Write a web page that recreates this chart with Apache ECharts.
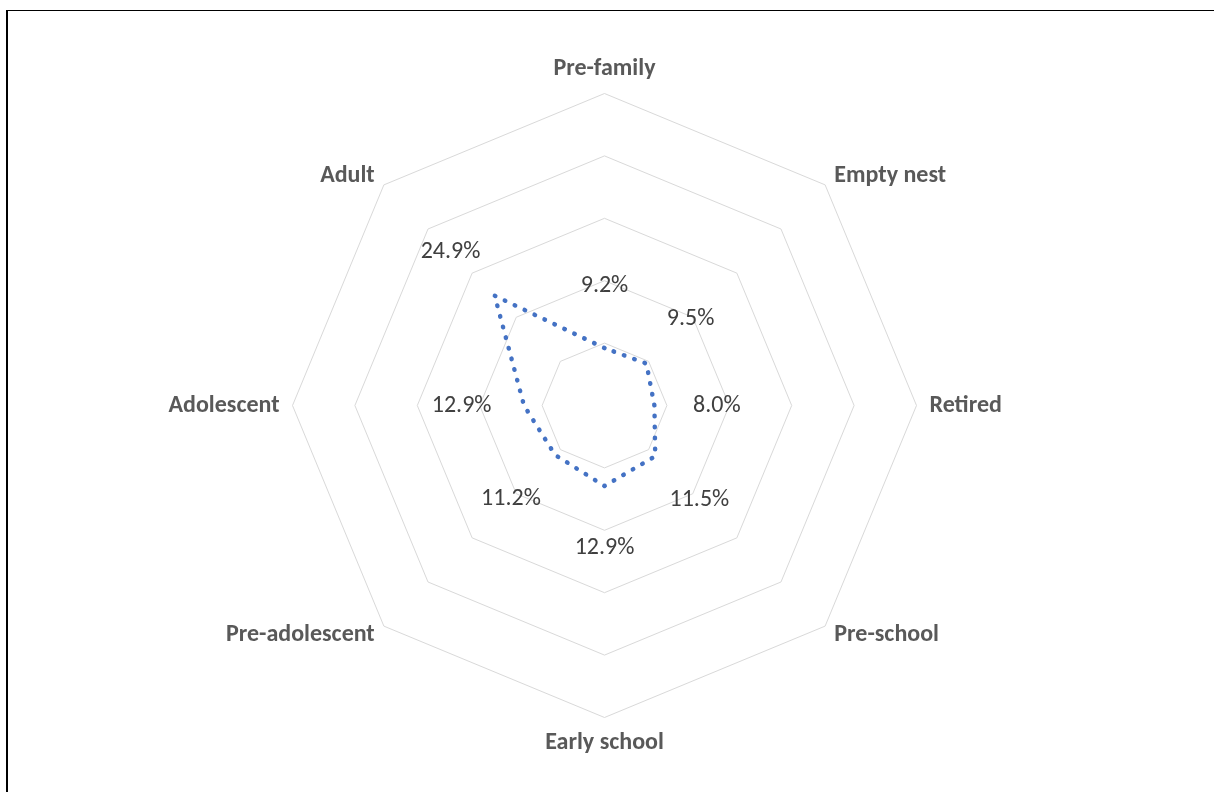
<!DOCTYPE html>
<html>
<head>
<meta charset="utf-8">
<script src="https://cdn.jsdelivr.net/npm/echarts@6/dist/echarts.min.js"></script>
<style>
  html, body { margin: 0; padding: 0; background: #ffffff; }
  #chart { position: absolute; left: 0; top: 0; width: 1214px; height: 792px; }
  .edge-top { position: absolute; left: 6px; top: 10px; width: 1208px; height: 1px; background: #000; }
  .edge-left { position: absolute; left: 6px; top: 10px; width: 2px; height: 782px; background: #000; }
</style>
</head>
<body>
<div id="chart"></div>
<div class="edge-top"></div>
<div class="edge-left"></div>
<script>
// Life-cycle stages, listed anticlockwise from the top (ECharts radar order)
const stages = ['Pre-family', 'Adult', 'Adolescent', 'Pre-adolescent', 'Early school', 'Pre-school', 'Retired', 'Empty nest'];
// Share of respondents per stage (%)
const shares = [9.2, 24.9, 12.9, 11.2, 12.9, 11.5, 8.0, 9.5];
// Radial scale of the chart
const scaleMax = 50;
const ringCount = 5;
// Value labels sit one ring outside their point
const labelLift = scaleMax / ringCount;

const FONT = "Carlito, Calibri, Lato, 'Liberation Sans', sans-serif";

const chart = echarts.init(document.getElementById('chart'), null, { renderer: 'canvas' });

chart.setOption({
  animation: false,
  backgroundColor: '#ffffff',
  radar: {
    center: [604.5, 405.5],
    radius: 312,
    startAngle: 90,
    shape: 'polygon',
    splitNumber: ringCount,
    indicator: stages.map(function (s) { return { name: s, min: 0, max: scaleMax }; }),
    axisName: {
      color: '#595959',
      fontFamily: FONT,
      fontWeight: 'bold',
      fontSize: 24
    },
    nameGap: 13,
    axisLine: { show: false },
    axisTick: { show: false },
    axisLabel: { show: false },
    splitArea: { show: false },
    splitLine: { lineStyle: { color: '#d9d9d9', width: 1 } }
  },
  series: [
    {
      // the share polygon, round-dotted outline
      type: 'radar',
      silent: true,
      symbol: 'none',
      lineStyle: {
        color: '#4472c4',
        width: 4.5,
        type: [0.5, 10.5],
        cap: 'round',
        join: 'round'
      },
      data: [{ value: shares, name: 'Share' }]
    },
    {
      // invisible anchors one ring further out, carrying the value labels
      type: 'radar',
      silent: true,
      symbol: 'circle',
      symbolSize: 1,
      itemStyle: { color: 'rgba(0,0,0,0)' },
      lineStyle: { width: 0, opacity: 0 },
      label: {
        show: true,
        position: 'inside',
        color: '#404040',
        fontFamily: FONT,
        fontSize: 24,
        formatter: function (p) {
          return shares[p.dimensionIndex].toFixed(1) + '%';
        }
      },
      data: [{
        value: shares.map(function (v) { return v + labelLift; }),
        name: 'Labels'
      }]
    }
  ]
});
</script>
</body>
</html>
